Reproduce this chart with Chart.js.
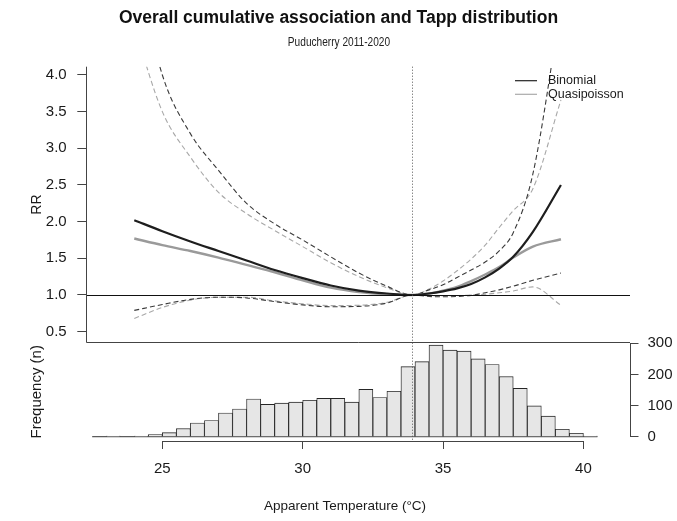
<!DOCTYPE html>
<html>
<head>
<meta charset="utf-8">
<title>Overall cumulative association and Tapp distribution</title>
<script src="https://cdn.jsdelivr.net/npm/chart.js@4.4.1/dist/chart.umd.min.js"></script>
<style>
  html, body { margin: 0; padding: 0; background: #fff; }
  #chart { display: block; }
</style>
</head>
<body>
<canvas id="chart" width="677" height="521"></canvas>
<script>
// apparent temperature (°C) at which the cumulative RR curves are evaluated
var temps = [24, 25, 26, 27, 28, 29, 30, 31, 32, 33, 33.9, 34.5, 35, 35.5, 36, 36.5, 37, 37.5, 38.2, 39.2];

// binomial model: RR and 95% CI
var binomialRR   = [2.02, 1.87, 1.73, 1.60, 1.47, 1.34, 1.23, 1.13, 1.06, 1.02, 1.00, 1.02, 1.05, 1.09, 1.15, 1.24, 1.36, 1.52, 1.86, 2.50];
var binomialLow  = [0.79, 0.87, 0.94, 0.97, 0.96, 0.91, 0.865, 0.84, 0.845, 0.89, 1.00, 0.98, 0.975, 0.98, 0.995, 1.03, 1.07, 1.12, 1.20, 1.30];
var binomialHigh = [5.60, 4.00, 3.20, 2.70, 2.25, 1.97, 1.75, 1.52, 1.30, 1.12, 1.00, 1.07, 1.14, 1.24, 1.34, 1.45, 1.60, 1.85, 2.65, 4.95];

// quasipoisson model: RR and 95% CI
var quasiRR   = [1.77, 1.68, 1.60, 1.51, 1.41, 1.31, 1.20, 1.10, 1.04, 1.01, 1.00, 1.02, 1.06, 1.11, 1.19, 1.28, 1.38, 1.51, 1.66, 1.76];
var quasiLow  = [0.68, 0.83, 0.93, 0.97, 0.97, 0.92, 0.88, 0.855, 0.86, 0.90, 1.00, 0.99, 0.99, 0.99, 1.00, 1.01, 1.03, 1.055, 1.11, 0.86];
var quasiHigh = [4.65, 3.50, 2.88, 2.40, 2.11, 1.88, 1.66, 1.44, 1.25, 1.10, 1.00, 1.08, 1.19, 1.33, 1.49, 1.68, 1.92, 2.15, 2.45, 3.66];

// daily Tapp distribution, 0.5 °C bins
var binMids = [22.75, 23.25, 23.75, 24.25, 24.75, 25.25, 25.75, 26.25, 26.75, 27.25, 27.75, 28.25,
               28.75, 29.25, 29.75, 30.25, 30.75, 31.25, 31.75, 32.25, 32.75, 33.25, 33.75, 34.25,
               34.75, 35.25, 35.75, 36.25, 36.75, 37.25, 37.75, 38.25, 38.75, 39.25, 39.75, 40.25];
var binCounts = [0, 2, 0, 2, 7, 13, 26, 44, 52, 76, 89, 121,
                 104, 108, 111, 117, 123, 123, 111, 152, 126, 146, 225, 241,
                 294, 278, 275, 250, 232, 193, 155, 99, 66, 24, 11, 2];
var binWidth = 0.5;

var tempTicks = [25, 30, 35, 40];
var rrTicks = [0.5, 1.0, 1.5, 2.0, 2.5, 3.0, 3.5, 4.0];
var freqTicks = [0, 100, 200, 300];
var centreTemp = 33.9;
var seriesNames = ['Binomial', 'Quasipoisson'];

var FONT = '"Liberation Sans", Arial, sans-serif';
var INK = '#1a1a1a';
var AXIS = '#444';
var RR_PANEL_MIN = 0.363; // lower edge of the RR panel

Chart.defaults.font.family = FONT;

function points(ys) {
    return temps.map(function (t, i) { return { x: t, y: ys[i] }; });
}

function curve(ys, color, width, dash) {
    return {
        type: 'line',
        data: points(ys),
        yAxisID: 'y',
        borderColor: color,
        borderWidth: width,
        borderDash: dash || [],
        pointRadius: 0,
        fill: false,
        cubicInterpolationMode: 'monotone'
    };
}

// R-style axes, reference lines, legend and axis labels
var rPanels = {
    id: 'rPanels',
    afterDatasetsDraw: function (chart) {
        var c = chart.ctx, a = chart.chartArea, s = chart.scales;
        c.save();
        c.lineWidth = 1;
        c.strokeStyle = '#111';
        var y1 = Math.round(s.y.getPixelForValue(1)) + 0.5;
        c.beginPath();
        c.moveTo(a.left, y1);
        c.lineTo(a.right, y1);
        c.stroke();

        var xc = Math.round(s.x.getPixelForValue(centreTemp)) + 0.5;
        c.strokeStyle = '#555';
        c.setLineDash([1, 2]);
        c.beginPath();
        c.moveTo(xc, a.top);
        c.lineTo(xc, a.bottom);
        c.stroke();
        c.restore();
    },
    afterDraw: function (chart) {
        var c = chart.ctx, a = chart.chartArea, s = chart.scales;
        c.save();
        c.strokeStyle = AXIS;
        c.lineWidth = 1;

        // top panel: left axis + bottom edge
        var left = Math.round(a.left) + 0.5;
        var yb = Math.round(s.y.getPixelForValue(RR_PANEL_MIN)) + 0.5;
        c.beginPath();
        c.moveTo(left, a.top);
        c.lineTo(left, yb);
        c.lineTo(a.right, yb);
        c.stroke();

        // frequency axis on the right
        var right = Math.round(a.right) + 0.5;
        c.beginPath();
        c.moveTo(right, s.y2.getPixelForValue(freqTicks[0]));
        c.lineTo(right, s.y2.getPixelForValue(freqTicks[freqTicks.length - 1]));
        c.stroke();

        // temperature axis
        var bottom = Math.round(a.bottom) + 0.5;
        c.beginPath();
        c.moveTo(s.x.getPixelForValue(tempTicks[0]), bottom);
        c.lineTo(s.x.getPixelForValue(tempTicks[tempTicks.length - 1]), bottom);
        c.stroke();

        // subtitle in a condensed face
        c.fillStyle = '#222';
        c.textAlign = 'center';
        c.textBaseline = 'middle';
        c.save();
        c.translate(339, 43);
        c.scale(0.81, 1);
        c.font = '12.5px ' + FONT;
        c.fillText('Puducherry 2011-2020', 0, 0);
        c.restore();

        // legend
        c.font = '12.5px ' + FONT;
        c.textAlign = 'left';
        c.fillStyle = INK;
        var lx = a.right - 115, ly = a.top + 14;
        seriesNames.forEach(function (name, i) {
            var yy = ly + i * 13.6;
            c.strokeStyle = i === 0 ? '#222' : '#aaa';
            c.lineWidth = 1.2;
            c.beginPath();
            c.moveTo(lx, yy);
            c.lineTo(lx + 22, yy);
            c.stroke();
            c.fillText(name, lx + 33, yy);
        });

        // x axis label
        c.textAlign = 'center';
        c.font = '13.5px ' + FONT;
        c.fillText('Apparent Temperature (°C)', 345, 506);

        // panel labels
        var yTop = (a.top + yb) / 2;
        var yHist = (yb + a.bottom) / 2;
        [['RR', yTop, 14], ['Frequency (n)', yHist, 15]].forEach(function (t) {
            c.save();
            c.font = t[2] + 'px ' + FONT;
            c.translate(37, t[1]);
            c.rotate(-Math.PI / 2);
            c.fillText(t[0], 0, 0);
            c.restore();
        });
        c.restore();
    }
};

new Chart(document.getElementById('chart'), {
    type: 'line',
    data: {
        datasets: [
            curve(binomialRR, '#1e1e1e', 2.2),
            curve(quasiRR, '#9a9a9a', 2.4),
            curve(binomialHigh, '#3a3a3a', 1.1, [5, 3]),
            curve(binomialLow, '#3a3a3a', 1.1, [5, 3]),
            curve(quasiHigh, '#a8a8a8', 1.1, [5, 3]),
            curve(quasiLow, '#a8a8a8', 1.1, [5, 3]),
            {
                type: 'bar',
                data: binMids.map(function (m, i) { return { x: m, y: binCounts[i] }; }),
                yAxisID: 'y2',
                backgroundColor: '#e6e6e6',
                borderColor: '#262626',
                borderWidth: 0.9,
                barPercentage: 1,
                categoryPercentage: 1
            },
            {
                type: 'line',
                data: [
                    { x: binMids[0] - binWidth / 2, y: 0 },
                    { x: binMids[binMids.length - 1] + binWidth / 2, y: 0 }
                ],
                yAxisID: 'y2',
                borderColor: '#333',
                borderWidth: 1,
                pointRadius: 0
            }
        ]
    },
    options: {
        responsive: false,
        animation: false,
        devicePixelRatio: 1,
        events: [],
        layout: { padding: 0 },
        plugins: {
            legend: { display: false },
            tooltip: { enabled: false },
            title: {
                display: true,
                text: 'Overall cumulative association and Tapp distribution',
                color: '#111',
                font: { size: 17.5, weight: 'bold' },
                padding: { top: 8, bottom: 37.7 }
            }
        },
        scales: {
            x: {
                type: 'linear',
                min: 22.28,
                max: 41.66,
                offset: false,
                afterBuildTicks: function (s) { s.ticks = tempTicks.map(function (v) { return { value: v }; }); },
                afterFit: function (s) { s.height = 80; },
                border: { display: false },
                grid: { offset: false, drawOnChartArea: false, tickLength: 8, color: AXIS },
                ticks: { color: INK, font: { size: 15 }, padding: 11, maxRotation: 0, autoSkip: false }
            },
            y: {
                type: 'linear',
                position: 'left',
                min: -0.991,
                max: 4.113,
                afterBuildTicks: function (s) { s.ticks = rrTicks.map(function (v) { return { value: v }; }); },
                afterFit: function (s) { s.width = 86; },
                border: { display: false },
                grid: { drawOnChartArea: false, tickLength: 8.7, color: AXIS },
                ticks: {
                    color: INK,
                    font: { size: 15 },
                    padding: 10.6,
                    callback: function (v) { return v.toFixed(1); }
                }
            },
            y2: {
                type: 'linear',
                position: 'right',
                min: -13.8,
                max: 1188.6,
                afterBuildTicks: function (s) { s.ticks = freqTicks.map(function (v) { return { value: v }; }); },
                afterFit: function (s) { s.width = 47; },
                border: { display: false },
                grid: { drawOnChartArea: false, tickLength: 8.5, color: AXIS },
                ticks: { color: INK, font: { size: 15 }, padding: 9 }
            }
        }
    },
    plugins: [rPanels]
});
</script>
</body>
</html>
